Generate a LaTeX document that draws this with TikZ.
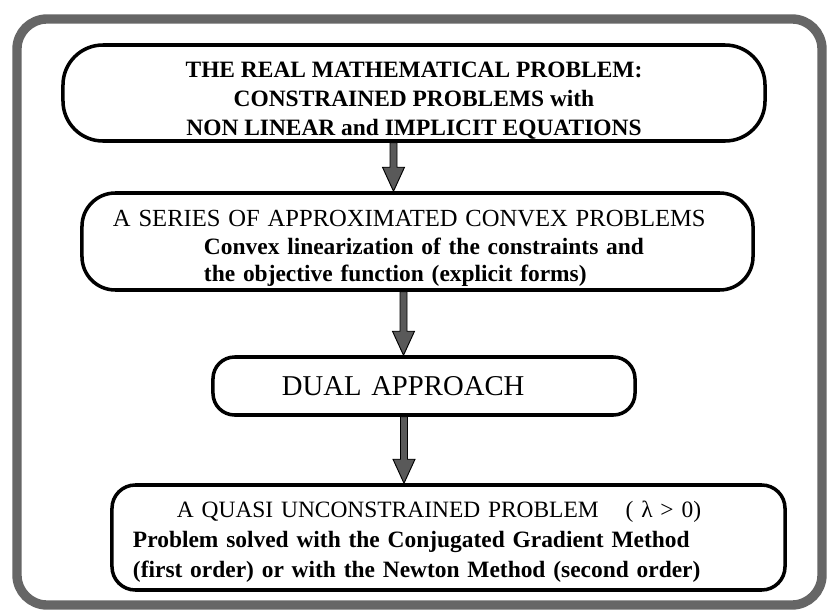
\documentclass[tikz,border=0pt]{standalone}
\usepackage{fontspec}
\setmainfont{Liberation Serif}
\usetikzlibrary{calc}
\tikzset{
  frame/.style={draw=black!60,line width=8pt,rounded corners=0.9cm},
  stage/.style={draw,line width=3pt,rounded corners=#1,inner ysep=0pt},
  arrowbody/.style={fill=black!65,draw=black,line width=0.8pt,line join=miter}
}
\newcommand{\stagearrow}[3]{%
  \coordinate (t) at (#1 |- #2.south);
  \coordinate (h) at (#1 |- #3.north);
  \filldraw[arrowbody] ($(t)+(-3.5,0)$) -- ($(h)+(-3.5,-24)$) -- ($(h)+(-11,-24)$) -- (h)
    -- ($(h)+(11,-24)$) -- ($(h)+(3.5,-24)$) -- ($(t)+(3.5,0)$) -- cycle;}

\begin{document}
\begin{tikzpicture}[x=0.03cm,y=-0.03cm]
\useasboundingbox (0,0) rectangle (827,615);
\coordinate (P0) at (0,0);
  \draw[frame] ($(P0)+(17,19)$) rectangle ($(P0)+(822,605)$);
  \node[stage=1.2cm,minimum width=21.06cm,minimum height=2.88cm,align=center,
    font=\fontsize{20}{24.7}\selectfont\bfseries] (P1) at ($(P0)+(414,93)$)
    {\rule{0pt}{27pt}THE REAL MATHEMATICAL PROBLEM:\\CONSTRAINED PROBLEMS with\\NON LINEAR and IMPLICIT EQUATIONS};
  \node[stage=1cm,text width=18.27cm,inner xsep=0.93cm,minimum height=2.91cm,align=left,
    font=\fontsize{20}{23.5}\selectfont\bfseries] (P2) at ($(P0)+(417.5,241.5)$)
    {\rule{0pt}{26pt}{\mdseries\fontsize{21}{23.5}\selectfont A SERIES OF APPROXIMATED CONVEX PROBLEMS}\\
     \hspace*{2.73cm}Convex linearization of the constraints and\\
     \hspace*{2.73cm}the objective function (explicit forms)};
  \node[stage=0.65cm,text width=8.52cm,inner xsep=2.07cm,minimum height=1.74cm,align=left,
    font=\fontsize{24.5}{28}\selectfont] (P3) at ($(P0)+(424,386)$) {DUAL APPROACH};
  \node[stage=0.7cm,text width=18.93cm,inner xsep=0.63cm,minimum height=3.15cm,align=left,
    font=\fontsize{20}{25.6}\selectfont\bfseries] (P4) at ($(P0)+(448.5,537.5)$)
    {\rule{0pt}{20.5pt}\hspace*{1.32cm}{\mdseries A QUASI UNCONSTRAINED PROBLEM\hspace{0.81cm}( λ > 0)}\\
     Problem solved with the Conjugated Gradient Method\\
     (first order) or with the Newton Method (second order)};
  \coordinate (A1) at ($(P0)+(393.5,0)$);
  \coordinate (A2) at ($(P0)+(403.5,0)$);
  \coordinate (A3) at ($(P0)+(404,0)$);
  \stagearrow{A1}{P1}{P2}
  \stagearrow{A2}{P2}{P3}
  \stagearrow{A3}{P3}{P4}
\end{tikzpicture}
\end{document}
